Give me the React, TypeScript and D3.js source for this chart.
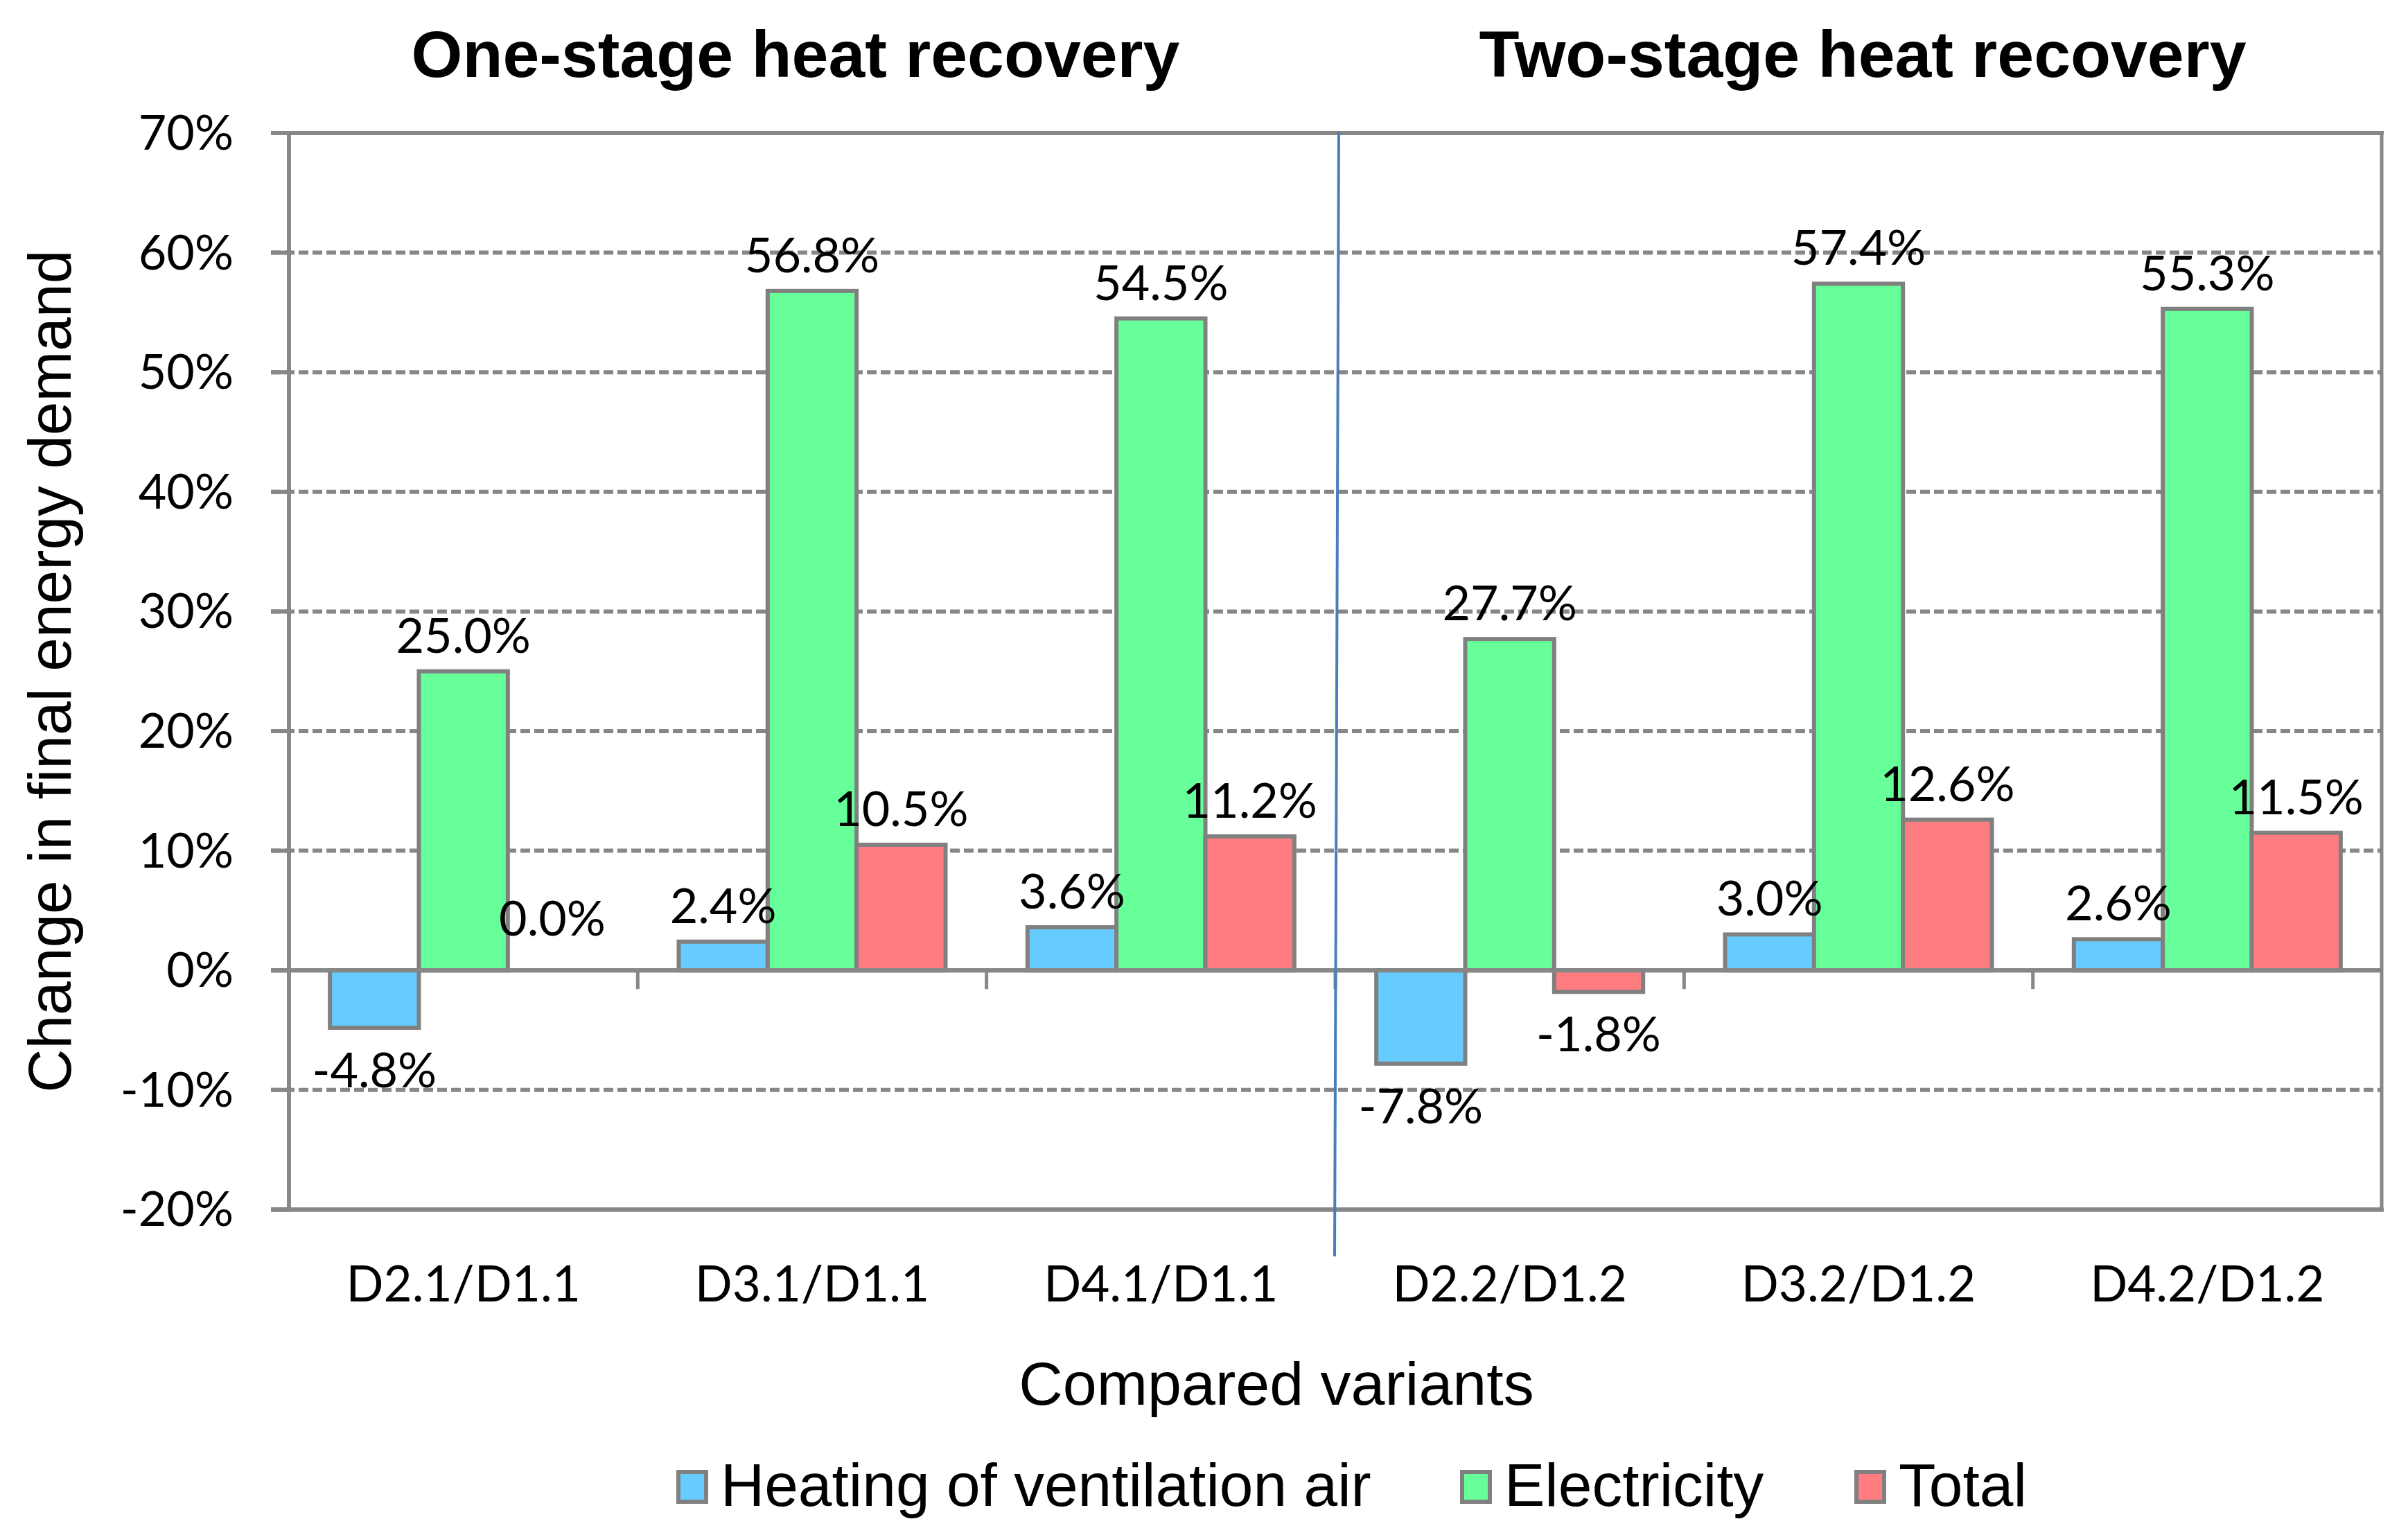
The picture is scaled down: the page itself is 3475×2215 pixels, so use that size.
import React from "react";
import * as d3 from "d3";

const categories = ["D2.1/D1.1", "D3.1/D1.1", "D4.1/D1.1", "D2.2/D1.2", "D3.2/D1.2", "D4.2/D1.2"];
const heating = [-4.8, 2.4, 3.6, -7.8, 3.0, 2.6];
const electricity = [25.0, 56.8, 54.5, 27.7, 57.4, 55.3];
const total = [0.0, 10.5, 11.2, -1.8, 12.6, 11.5];
const seriesNames = ["Heating of ventilation air", "Electricity", "Total"];
const groupTitles = ["One-stage heat recovery", "Two-stage heat recovery"];
const yTickValues = [-20, -10, 0, 10, 20, 30, 40, 50, 60, 70];
const yAxisTitle = "Change in final energy demand";
const xAxisTitle = "Compared variants";

const W = 3475;
const H = 2215;
const M = { left: 417, right: 3437, top: 192, bottom: 1745.4 };
const COLORS = ["#66CCFF", "#66FF99", "#FF7C80"];
const LINE = "#878787";
const BAR_STROKE = "#808080";
const CAL = "Lato, Carlito, Calibri, sans-serif";
const ARIAL = "'Liberation Sans', Arial, sans-serif";

const locale = d3.formatLocale({ decimal: ".", thousands: ",", grouping: [3], currency: ["$", ""], minus: "-" });
const fmtTick = (v: number) => locale.format("d")(v) + "%";
const fmtLabel = (v: number) => locale.format(".1f")(v) + "%";

export default function App() {
  const series = [heating, electricity, total];
  const x = d3.scaleBand<string>().domain(categories).range([M.left, M.right]).paddingInner(0).paddingOuter(0);
  const catW = x.bandwidth();
  const barW = catW * 0.255;
  const gap = catW - 3 * barW;
  const inner = d3.scaleBand<number>().domain([0, 1, 2]).range([gap / 2, catW - gap / 2]).padding(0);
  const y = d3.scaleLinear().domain([-20, 70]).range([M.bottom, M.top]);
  const y0 = y(0);

  const groupCenters = [
    (x(categories[0])! + x(categories[2])! + catW) / 2 - 24,
    (x(categories[3])! + x(categories[5])! + catW) / 2 + 6,
  ];
  const divX = x(categories[3])!;

  const legendX = [976, 2107, 2676];

  return (
    <svg width={W} height={H} style={{ position: "absolute", left: 0, top: 0, background: "#fff" }}>
      <rect x={0} y={0} width={W} height={H} fill="#fff" />
      {/* gridlines */}
      {yTickValues.map((t) => {
        const isSolid = t === 70 || t === -20 || t === 0;
        return (
          <line
            key={"g" + t}
            x1={M.left - 26}
            x2={M.right}
            y1={y(t)}
            y2={y(t)}
            stroke={LINE}
            strokeWidth={6}
            strokeDasharray={isSolid ? undefined : "14 6"}
          />
        );
      })}
      {/* left tick stubs solid */}
      {yTickValues.map((t) => (
        <line key={"tk" + t} x1={M.left - 26} x2={M.left} y1={y(t)} y2={y(t)} stroke={LINE} strokeWidth={6} />
      ))}
      {/* bars */}
      {categories.map((c, ci) =>
        series.map((s, si) => {
          const v = s[ci];
          const yv = y(v);
          const top = Math.min(yv, y0);
          const h = Math.abs(yv - y0);
          return (
            <rect
              key={c + si}
              x={x(c)! + inner(si)!}
              y={top}
              width={barW}
              height={h}
              fill={COLORS[si]}
              stroke={BAR_STROKE}
              strokeWidth={6}
            />
          );
        })
      )}
      {/* plot border */}
      <line x1={M.left} x2={M.left} y1={M.top - 3} y2={M.bottom + 3} stroke={LINE} strokeWidth={6} />
      <line x1={M.right} x2={M.right} y1={M.top - 3} y2={M.bottom + 3} stroke={LINE} strokeWidth={5} />
      <line x1={M.left - 26} x2={M.right + 3} y1={M.top} y2={M.top} stroke={LINE} strokeWidth={6} />
      <line x1={M.left - 26} x2={M.right + 3} y1={M.bottom} y2={M.bottom} stroke={LINE} strokeWidth={6} />
      {/* zero axis */}
      <line x1={M.left - 26} x2={M.right} y1={y0} y2={y0} stroke={LINE} strokeWidth={6} />
      {categories.slice(1).map((c) => (
        <line key={"xt" + c} x1={x(c)!} x2={x(c)!} y1={y0} y2={y0 + 27} stroke={LINE} strokeWidth={5} />
      ))}
      {/* divider */}
      <line x1={divX + 5} x2={divX - 1} y1={M.top - 2} y2={1813} stroke="#4A7EBB" strokeWidth={4} />
      {/* y tick labels */}
      {yTickValues.map((t) => (
        <text key={"yl" + t} x={337} y={y(t) + 24} textAnchor="end" fontFamily={CAL} fontSize={70} fill="#000">
          {fmtTick(t)}
        </text>
      ))}
      {/* category labels */}
      {categories.map((c) => (
        <text key={"cl" + c} x={x(c)! + catW / 2} y={1878} textAnchor="middle" fontFamily={CAL} fontSize={71} fill="#000">
          {c}
        </text>
      ))}
      {/* data labels */}
      {categories.map((c, ci) =>
        series.map((s, si) => {
          const v = s[ci];
          const cx = x(c)! + inner(si)! + barW / 2;
          const ly = v > 0 ? y(v) - 27 : v < 0 ? y(v) + 86 : y0 - 50;
          return (
            <text key={"dl" + c + si} x={cx} y={ly} textAnchor="middle" fontFamily={CAL} fontSize={70} fill="#000">
              {fmtLabel(v)}
            </text>
          );
        })
      )}
      {/* group titles */}
      {groupTitles.map((t, i) => (
        <text key={t} x={groupCenters[i]} y={111} textAnchor="middle" fontFamily={ARIAL} fontWeight="bold" fontSize={95} fill="#000">
          {t}
        </text>
      ))}
      {/* axis titles */}
      <text
        transform={`translate(102, ${(M.top + M.bottom) / 2}) rotate(-90)`}
        textAnchor="middle"
        fontFamily={ARIAL}
        fontSize={87.5}
        fill="#000"
      >
        {yAxisTitle}
      </text>
      <text x={1842} y={2027} textAnchor="middle" fontFamily={ARIAL} fontSize={88} fill="#000">
        {xAxisTitle}
      </text>
      {/* legend */}
      {seriesNames.map((n, i) => (
        <g key={n}>
          <rect x={legendX[i] + 3} y={2124} width={40} height={43} fill={COLORS[i]} stroke={BAR_STROKE} strokeWidth={6} />
          <text x={legendX[i] + 64} y={2173} fontFamily={ARIAL} fontSize={87.5} fill="#000">
            {n}
          </text>
        </g>
      ))}
    </svg>
  );
}
